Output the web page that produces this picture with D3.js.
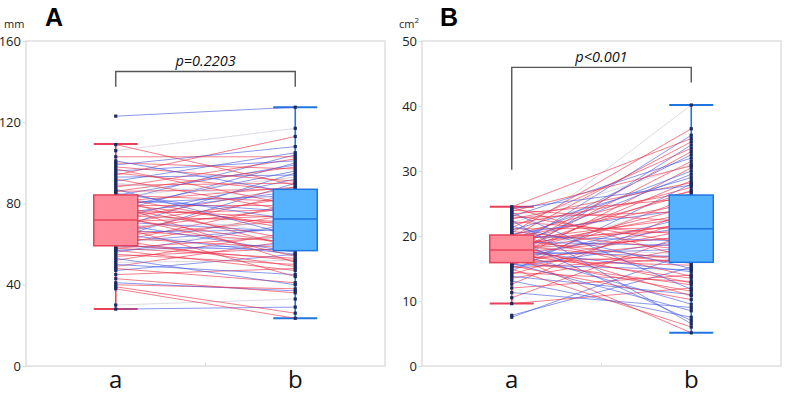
<!DOCTYPE html>
<html><head><meta charset="utf-8">
<script src="https://cdn.jsdelivr.net/npm/d3@7"></script>
<style>body{margin:0;background:#fff;}svg{display:block;font-family:"Open Sans",sans-serif;}</style>
</head><body>
<script>
// ---------- DATA ----------
const groups = ["a", "b"];
// Panel A (mm)
const ticksA = [0, 40, 80, 120, 160];
const pA_a = [28,30,38,39,40,41,43,45,47,48,49,50,51,52,53,54,55,56,57,57,58,58,
  59,60,60,61,61,62,62,63,63,64,65,65,66,67,67,68,69,69,70,70,71,71,72,
  73,73,74,74,75,75,76,76,77,78,78,79,79,80,80,81,81,82,82,83,83,84,84,
  85,86,86,87,88,89,90,91,92,93,94,95,96,97,98,99,100,101,103,106,109,123];
const pA_b = [29,33,23.5,26,38,37,36,48,55,41,62,45,52,66,40,58,50,70,47,60,53,64,
  57,75,52,68,80,63,49,90,58,72,55,85,67,61,78,95,44,70,83,56,74,66,88,
  60,92,71,54,86,77,65,100,73,62,96,79,51,84,69,104,88,58,76,93,67,99,81,
  72,98,87,64,102,90,82,105,76,94,113,86,101,79,91,108,97,85,103,117,89,127.4];
const colA = ("bgrrrbrrbrrbgrbrrbrbrr" + "brrbrgrbrrbrbrrbrgrbrbr" +
  "rbrrbrgbrrbrrbrbrrbgrbr" + "brrbrrgbrbrrbrrbrbrgrb").split("");
const boxA_a = [28.1, 59.2, 71.9, 84.2, 109.3];   // min, Q1, median, Q3, max
const boxA_b = [23.5, 56.8, 72.4, 87.0, 127.4];
const pTextA = "p=0.2203";

// Panel B (cm2)
const ticksB = [0, 10, 20, 30, 40, 50];
const pB_a = [7.5,7.8,9.6,10.5,11.3,12.0,12.6,13.1,13.5,13.8,14.1,14.4,14.6,14.9,15.1,15.2,15.4,15.5,15.6,15.7,15.8,15.9,
  16.0,16.1,16.2,16.3,16.4,16.5,16.6,16.7,16.8,16.9,17.0,17.0,17.1,17.2,17.3,17.4,17.5,17.5,17.6,17.7,17.8,17.8,17.9,
  18.0,18.1,18.2,18.3,18.4,18.5,18.6,18.7,18.8,18.9,19.0,19.1,19.2,19.3,19.4,19.5,19.6,19.7,19.8,19.9,20.0,20.1,20.2,
  20.3,20.5,20.7,20.9,21.1,21.3,21.5,21.8,22.0,22.2,22.4,22.6,22.8,23.0,23.2,23.4,23.6,23.8,24.0,24.2,24.4,24.5];
const pB_b = [17.5,15.2,12.0,20.5,9.0,14.0,24.0,7.5,18.2,11.0,22.5,13.0,28.0,6.0,16.5,19.5,10.2,26.0,14.8,21.0,8.5,17.0,
  30.5,12.5,23.0,15.5,19.0,34.0,11.5,25.5,16.0,21.5,5.1,28.5,18.0,13.5,31.5,20.0,9.5,24.5,16.8,33.0,22.0,14.5,27.0,
  19.8,35.5,12.8,23.5,17.2,29.5,15.8,21.8,32.5,10.8,26.5,18.5,40.15,22.8,16.2,30.0,20.8,7.0,25.0,34.5,19.2,27.5,13.8,
  24.2,36.5,17.8,29.0,21.2,33.5,15.0,26.8,31.0,20.2,6.5,28.2,23.8,32.0,18.8,25.8,11.8,30.8,22.2,27.8,16.5,35.0];
const colB = ("bbrrbrrbrbrrbrrbrrbrbr" + "rrbrrbrgrbrrbrrrbrbrrbr" +
  "rbrrgbrrbrrbgrrbrbrrbrr" + "brrbrrbrgrbrrbrrbrrbrr").split("");
const boxB_a = [9.6, 15.9, 17.85, 20.15, 24.5];
const boxB_b = [5.1, 15.95, 21.1, 26.3, 40.15];
const pTextB = "p<0.001";

// ---------- DRAW ----------
const W = 785, H = 395;
const svg = d3.select("body").append("svg").attr("width", W).attr("height", H);
const lineCol = {r: "#ee2f45", b: "#4358e2", g: "#c8c2d4"};
const boxStyle = {
  a: {fill: "#ff8b9b", stroke: "#e8425a"},
  b: {fill: "#55b2ff", stroke: "#1f76e0"}
};

function panel(o) {
  const g = svg.append("g");
  const y = d3.scaleLinear().domain([o.ticks[0], o.ticks[o.ticks.length - 1]]).range([o.bottom, o.top]);
  const x = d3.scalePoint().domain(groups).range([o.left, o.right]).padding(0.5);
  const bw = 44;

  // frame
  g.append("rect").attr("x", o.left).attr("y", o.top).attr("width", o.right - o.left)
    .attr("height", o.bottom - o.top).attr("fill", "none").attr("stroke", "#dadada").attr("stroke-width", 1.3);
  g.append("line").attr("x1", (o.left + o.right) / 2).attr("x2", (o.left + o.right) / 2)
    .attr("y1", o.bottom).attr("y2", o.bottom - 3).attr("stroke", "#dadada");

  // y axis
  const ax = g.append("g").attr("transform", `translate(${o.left},0)`)
    .call(d3.axisLeft(y).tickValues(o.ticks).tickSize(3).tickPadding(2).tickFormat(d3.format("d")));
  ax.select(".domain").remove();
  ax.selectAll(".tick line").attr("stroke", "#dadada");
  ax.selectAll("text").attr("font-size", 13).attr("fill", "#222").attr("font-family", "Open Sans");

  // x labels
  g.selectAll(".xl").data(groups).join("text").attr("x", d => x(d)).attr("y", 388)
    .attr("text-anchor", "middle").attr("font-size", 24).attr("fill", "#111").text(d => d);

  // whiskers
  const boxes = [{k: "a", s: o.boxA}, {k: "b", s: o.boxB}];
  boxes.forEach(b => {
    const st = boxStyle[b.k];
    g.append("line").attr("x1", x(b.k)).attr("x2", x(b.k)).attr("y1", y(b.s[0])).attr("y2", y(b.s[4]))
      .attr("stroke", st.stroke).attr("stroke-width", 1.6);
    [b.s[0], b.s[4]].forEach(v => g.append("line").attr("x1", x(b.k) - bw / 2).attr("x2", x(b.k) + bw / 2)
      .attr("y1", y(v)).attr("y2", y(v)).attr("stroke", st.stroke).attr("stroke-width", 2));
  });

  // paired lines
  g.append("g").selectAll("line").data(o.va.map((v, i) => [v, o.vb[i], o.col[i]])).join("line")
    .attr("x1", x("a")).attr("x2", x("b")).attr("y1", d => y(d[0])).attr("y2", d => y(d[1]))
    .attr("stroke", d => lineCol[d[2]]).attr("stroke-width", 1).attr("stroke-opacity", 0.62);

  // dots
  [["a", o.va], ["b", o.vb]].forEach(([k, vals]) => {
    g.append("g").selectAll("rect").data(vals).join("rect")
      .attr("x", x(k) - 1.6).attr("y", d => y(d) - 1.6).attr("width", 3.2).attr("height", 3.2)
      .attr("fill", "#1c2a5e");
  });

  // boxes
  boxes.forEach(b => {
    const st = boxStyle[b.k];
    g.append("rect").attr("x", x(b.k) - bw / 2).attr("y", y(b.s[3])).attr("width", bw)
      .attr("height", y(b.s[1]) - y(b.s[3])).attr("fill", st.fill).attr("stroke", st.stroke).attr("stroke-width", 1.5);
    g.append("line").attr("x1", x(b.k) - bw / 2).attr("x2", x(b.k) + bw / 2)
      .attr("y1", y(b.s[2])).attr("y2", y(b.s[2])).attr("stroke", st.stroke).attr("stroke-width", 1.5);
  });

  // bracket
  const bt = y(o.br[0]);
  g.append("path").attr("d", `M${x("a")},${y(o.br[1])}V${bt}H${x("b")}V${y(o.br[2])}`)
    .attr("fill", "none").attr("stroke", "#555").attr("stroke-width", 1.4);
  g.append("text").attr("x", (x("a") + x("b")) / 2).attr("y", bt - 5).attr("text-anchor", "middle")
    .attr("font-size", 14.5).attr("font-style", "italic").attr("fill", "#111").text(o.p);

  // title and unit
  g.append("text").attr("x", o.titleX).attr("y", 26).attr("font-size", 25).attr("font-weight", "bold")
    .attr("font-family", "Liberation Sans, Arial, sans-serif").attr("fill", "#000").text(o.title);
  const u = g.append("text").attr("x", o.unitX).attr("y", 28).attr("font-size", 11).attr("fill", "#222").text(o.unit);
  if (o.sup) u.append("tspan").attr("dy", -5).attr("font-size", 8).text(o.sup);
}

panel({left: 26, right: 385, top: 41, bottom: 366, ticks: ticksA, va: pA_a, vb: pA_b, col: colA,
  boxA: boxA_a, boxB: boxA_b, br: [145, 137.5, 137.5], p: pTextA, title: "A", titleX: 45, unit: "mm", unitX: 4});
panel({left: 422, right: 781, top: 41, bottom: 366, ticks: ticksB, va: pB_a, vb: pB_b, col: colB,
  boxA: boxB_a, boxB: boxB_b, br: [45.95, 30.2, 43.6], p: pTextB, title: "B", titleX: 440, unit: "cm", sup: "2", unitX: 399});
</script>
</body></html>
